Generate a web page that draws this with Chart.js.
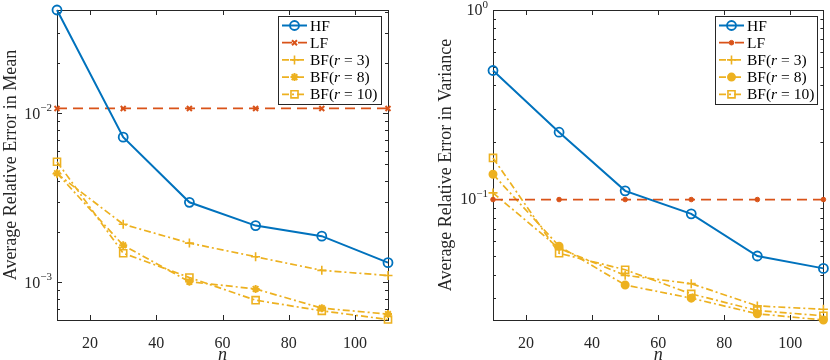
<!DOCTYPE html>
<html>
<head>
<meta charset="utf-8">
<script src="https://cdn.jsdelivr.net/npm/chart.js@4.4.1/dist/chart.umd.min.js"></script>
<style>
  html, body { margin: 0; padding: 0; background: #fff; }
  #wrap { position: relative; width: 830px; height: 360px; }
  canvas { position: absolute; top: 0; }
  #meanChart { left: 0; }
  #varChart { left: 415px; }
</style>
</head>
<body>
<div id="wrap">
  <canvas id="meanChart" width="415" height="360"></canvas>
  <canvas id="varChart" width="415" height="360"></canvas>
</div>
<script>
// sample sizes
const nValues = [10, 30, 50, 70, 90, 110];
const xTicks = [20, 40, 60, 80, 100];

// left panel: error in mean
const meanHF = [0.0409, 0.00724, 0.00298, 0.00217, 0.00188, 0.00131];
const meanLF = [0.0107, 0.0107, 0.0107, 0.0107, 0.0107, 0.0107];
const meanBF3 = [0.0044, 0.00221, 0.00171, 0.00142, 0.00118, 0.0011];
const meanBF8 = [0.00443, 0.00166, 0.00101, 0.000916, 0.000705, 0.00065];
const meanBF10 = [0.00518, 0.00149, 0.00107, 0.000786, 0.00068, 0.000604];
const meanYTicks = [1e-3, 1e-2];

// right panel: error in variance
const varHF = [0.479, 0.226, 0.1107, 0.0837, 0.0501, 0.0431];
const varLF = [0.0996, 0.0996, 0.0996, 0.0996, 0.0996, 0.0996];
const varBF3 = [0.108, 0.055, 0.0396, 0.0358, 0.0273, 0.0262];
const varBF8 = [0.1355, 0.0565, 0.0352, 0.030, 0.0248, 0.023];
const varBF10 = [0.1653, 0.0518, 0.0424, 0.0316, 0.0258, 0.0242];
const varYTicks = [1e-1, 1e0];

const seriesLabels = ['HF', 'LF', 'BF(r = 3)', 'BF(r = 8)', 'BF(r = 10)'];

const BLUE = '#0072BD';
const ORANGE = '#D95319';
const YELLOW = '#EDB120';
const AXIS = '#262626';
const FONT = '"Liberation Serif", "DejaVu Serif", serif';

function toPoints(values) {
  return nValues.map((n, i) => ({ x: n, y: values[i] }));
}

function makeDatasets(hf, lf, bf3, bf8, bf10, lfStyle, bf8Style) {
  const base = { clip: false, tension: 0, fill: false };
  const dashDot = [7, 3, 2, 3];
  return [
    { ...base, label: seriesLabels[0], data: toPoints(hf), borderColor: BLUE, borderWidth: 2,
      pointStyle: 'circle', pointRadius: 4.5, pointBorderWidth: 1.8,
      pointBorderColor: BLUE, pointBackgroundColor: 'rgba(0,0,0,0)' },
    { ...base, label: seriesLabels[1], data: toPoints(lf), borderColor: ORANGE, borderWidth: 1.8,
      borderDash: [10, 6], pointStyle: lfStyle.style, pointRadius: lfStyle.radius,
      pointBorderWidth: lfStyle.width, pointBorderColor: ORANGE, pointBackgroundColor: ORANGE },
    { ...base, label: seriesLabels[2], data: toPoints(bf3), borderColor: YELLOW, borderWidth: 1.7,
      borderDash: dashDot, pointStyle: 'cross', pointRadius: 4.5, pointBorderWidth: 1.6,
      pointBorderColor: YELLOW, pointBackgroundColor: YELLOW },
    { ...base, label: seriesLabels[3], data: toPoints(bf8), borderColor: YELLOW, borderWidth: 1.7,
      borderDash: dashDot, pointStyle: bf8Style.style, pointRadius: bf8Style.radius,
      pointBorderWidth: 2, pointBorderColor: YELLOW, pointBackgroundColor: YELLOW },
    { ...base, label: seriesLabels[4], data: toPoints(bf10), borderColor: YELLOW, borderWidth: 1.7,
      borderDash: dashDot, pointStyle: 'rect', pointRadius: 5, pointBorderWidth: 1.6,
      pointBorderColor: YELLOW, pointBackgroundColor: 'rgba(0,0,0,0)' }
  ];
}

// marker for the legend samples
function drawMarker(ctx, ds, x, y) {
  const r = ds.pointRadius;
  ctx.save();
  ctx.setLineDash([]);
  ctx.strokeStyle = ds.pointBorderColor;
  ctx.fillStyle = ds.pointBackgroundColor;
  ctx.lineWidth = ds.pointBorderWidth;
  ctx.beginPath();
  if (ds.pointStyle === 'circle') {
    ctx.arc(x, y, r, 0, Math.PI * 2);
    ctx.fill();
    ctx.stroke();
  } else if (ds.pointStyle === 'rect') {
    const s = r / Math.SQRT2;
    ctx.rect(x - s, y - s, 2 * s, 2 * s);
    ctx.fill();
    ctx.stroke();
  } else {
    const d = r * Math.SQRT1_2;
    if (ds.pointStyle === 'cross' || ds.pointStyle === 'star') {
      ctx.moveTo(x - r, y); ctx.lineTo(x + r, y);
      ctx.moveTo(x, y - r); ctx.lineTo(x, y + r);
    }
    if (ds.pointStyle === 'crossRot' || ds.pointStyle === 'star') {
      ctx.moveTo(x - d, y - d); ctx.lineTo(x + d, y + d);
      ctx.moveTo(x + d, y - d); ctx.lineTo(x - d, y + d);
    }
    ctx.stroke();
  }
  ctx.restore();
}

const axesBoxPlugin = {
  id: 'axesBox',
  beforeDatasetsDraw(chart, args, opts) {
    const { ctx, chartArea: a, scales } = chart;
    ctx.save();
    ctx.strokeStyle = AXIS;
    ctx.lineWidth = 1;
    ctx.strokeRect(Math.round(a.left) + 0.5, Math.round(a.top) + 0.5,
      Math.round(a.right - a.left), Math.round(a.bottom - a.top));

    ctx.beginPath();
    xTicks.forEach(v => {
      const px = Math.round(scales.x.getPixelForValue(v)) + 0.5;
      ctx.moveTo(px, a.bottom); ctx.lineTo(px, a.bottom - 5);
      ctx.moveTo(px, a.top); ctx.lineTo(px, a.top + 5);
    });
    const yMin = scales.y.min, yMax = scales.y.max;
    for (let d = Math.floor(Math.log10(yMin)); d <= Math.ceil(Math.log10(yMax)); d++) {
      for (let k = 1; k <= 9; k++) {
        const v = k * Math.pow(10, d);
        if (v < yMin * 0.999 || v > yMax * 1.001) continue;
        const py = Math.round(scales.y.getPixelForValue(v)) + 0.5;
        const len = k === 1 ? 5 : 3;
        ctx.moveTo(a.left, py); ctx.lineTo(a.left + len, py);
        ctx.moveTo(a.right, py); ctx.lineTo(a.right - len, py);
      }
    }
    ctx.stroke();

    // y tick labels as 10 with a raised exponent
    ctx.fillStyle = AXIS;
    ctx.textBaseline = 'middle';
    opts.yTicks.forEach(v => {
      const py = scales.y.getPixelForValue(v);
      const exp = Math.round(Math.log10(v));
      const expText = exp < 0 ? '\u2212' + Math.abs(exp) : String(exp);
      ctx.font = '16px ' + FONT;
      const wBase = ctx.measureText('10').width;
      ctx.font = '11px ' + FONT;
      const wExp = ctx.measureText(expText).width;
      const x0 = a.left - 5 - wBase - wExp;
      ctx.font = '16px ' + FONT;
      ctx.fillText('10', x0, py + 1);
      ctx.font = '11px ' + FONT;
      ctx.fillText(expText, x0 + wBase, py - 5);
    });
    ctx.restore();
  },
  afterDraw(chart, args, opts) {
    const { ctx } = chart;
    const box = opts.legend;
    ctx.save();
    ctx.fillStyle = '#fff';
    ctx.fillRect(box.x, box.y, box.w, box.h);
    ctx.strokeStyle = AXIS;
    ctx.lineWidth = 1;
    ctx.strokeRect(box.x + 0.5, box.y + 0.5, box.w, box.h);
    chart.data.datasets.forEach((ds, i) => {
      const y = box.y + 9.5 + i * 17.2;
      const x0 = box.x + 4;
      ctx.save();
      ctx.strokeStyle = ds.borderColor;
      ctx.lineWidth = ds.borderWidth;
      ctx.setLineDash(ds.borderDash || []);
      ctx.beginPath();
      ctx.moveTo(x0, y); ctx.lineTo(x0 + 25, y);
      ctx.stroke();
      ctx.restore();
      drawMarker(ctx, ds, x0 + 12.5, y);

      // label, with the r set in italics
      ctx.fillStyle = '#000';
      ctx.textBaseline = 'middle';
      let tx = box.x + 32;
      const parts = ds.label.split(/(r)(?= =)/);
      parts.forEach(p => {
        ctx.font = (p === 'r' ? 'italic ' : '') + '15.5px ' + FONT;
        ctx.fillText(p, tx, y + 1);
        tx += ctx.measureText(p).width;
      });
    });
    ctx.restore();
  }
};

function makeChart(canvasId, datasets, cfg) {
  const all = datasets.flatMap(ds => ds.data.map(p => p.y));
  return new Chart(document.getElementById(canvasId), {
    type: 'line',
    data: { datasets },
    options: {
      responsive: false,
      animation: false,
      devicePixelRatio: 1,
      layout: { padding: cfg.padding },
      plugins: {
        legend: { display: false },
        tooltip: { enabled: false },
        axesBox: { legend: cfg.legend, yTicks: cfg.yTicks }
      },
      scales: {
        x: {
          type: 'linear',
          min: 10,
          max: 110,
          afterBuildTicks: scale => { scale.ticks = xTicks.map(v => ({ value: v })); },
          afterFit: scale => { scale.height = 40; },
          grid: { display: false },
          border: { display: false },
          ticks: { color: AXIS, padding: 6, font: { family: FONT, size: 16 } },
          title: {
            display: true, text: 'n', color: AXIS,
            padding: { top: 0, bottom: -4 },
            font: { family: FONT, size: 18, style: 'italic', lineHeight: 1 }
          }
        },
        y: {
          type: 'logarithmic',
          min: Math.min(...all),
          max: cfg.yMax || Math.max(...all),
          afterFit: scale => { scale.width = cfg.yWidth; },
          grid: { display: false },
          border: { display: false },
          ticks: { display: false },
          title: {
            display: true, text: cfg.yTitle, color: AXIS,
            padding: 0,
            font: { family: FONT, size: 18 }
          }
        }
      }
    },
    plugins: [axesBoxPlugin]
  });
}

makeChart('meanChart',
  makeDatasets(meanHF, meanLF, meanBF3, meanBF8, meanBF10,
    { style: 'crossRot', radius: 3.5, width: 2 }, { style: 'star', radius: 4 }),
  {
    padding: { left: 0, right: 27, top: 10, bottom: 0 },
    yWidth: 57,
    yTitle: 'Average Relative Error in Mean',
    yTicks: meanYTicks,
    legend: { x: 278, y: 16, w: 103, h: 88 }
  });

makeChart('varChart',
  makeDatasets(varHF, varLF, varBF3, varBF8, varBF10,
    { style: 'circle', radius: 2.3, width: 1 }, { style: 'circle', radius: 3.5 }),
  {
    padding: { left: 20, right: 5, top: 10, bottom: 0 },
    yWidth: 58,
    yMax: 1,
    yTitle: 'Average Relative Error in Variance',
    yTicks: varYTicks,
    legend: { x: 300, y: 16, w: 102, h: 88 }
  });
</script>
</body>
</html>
